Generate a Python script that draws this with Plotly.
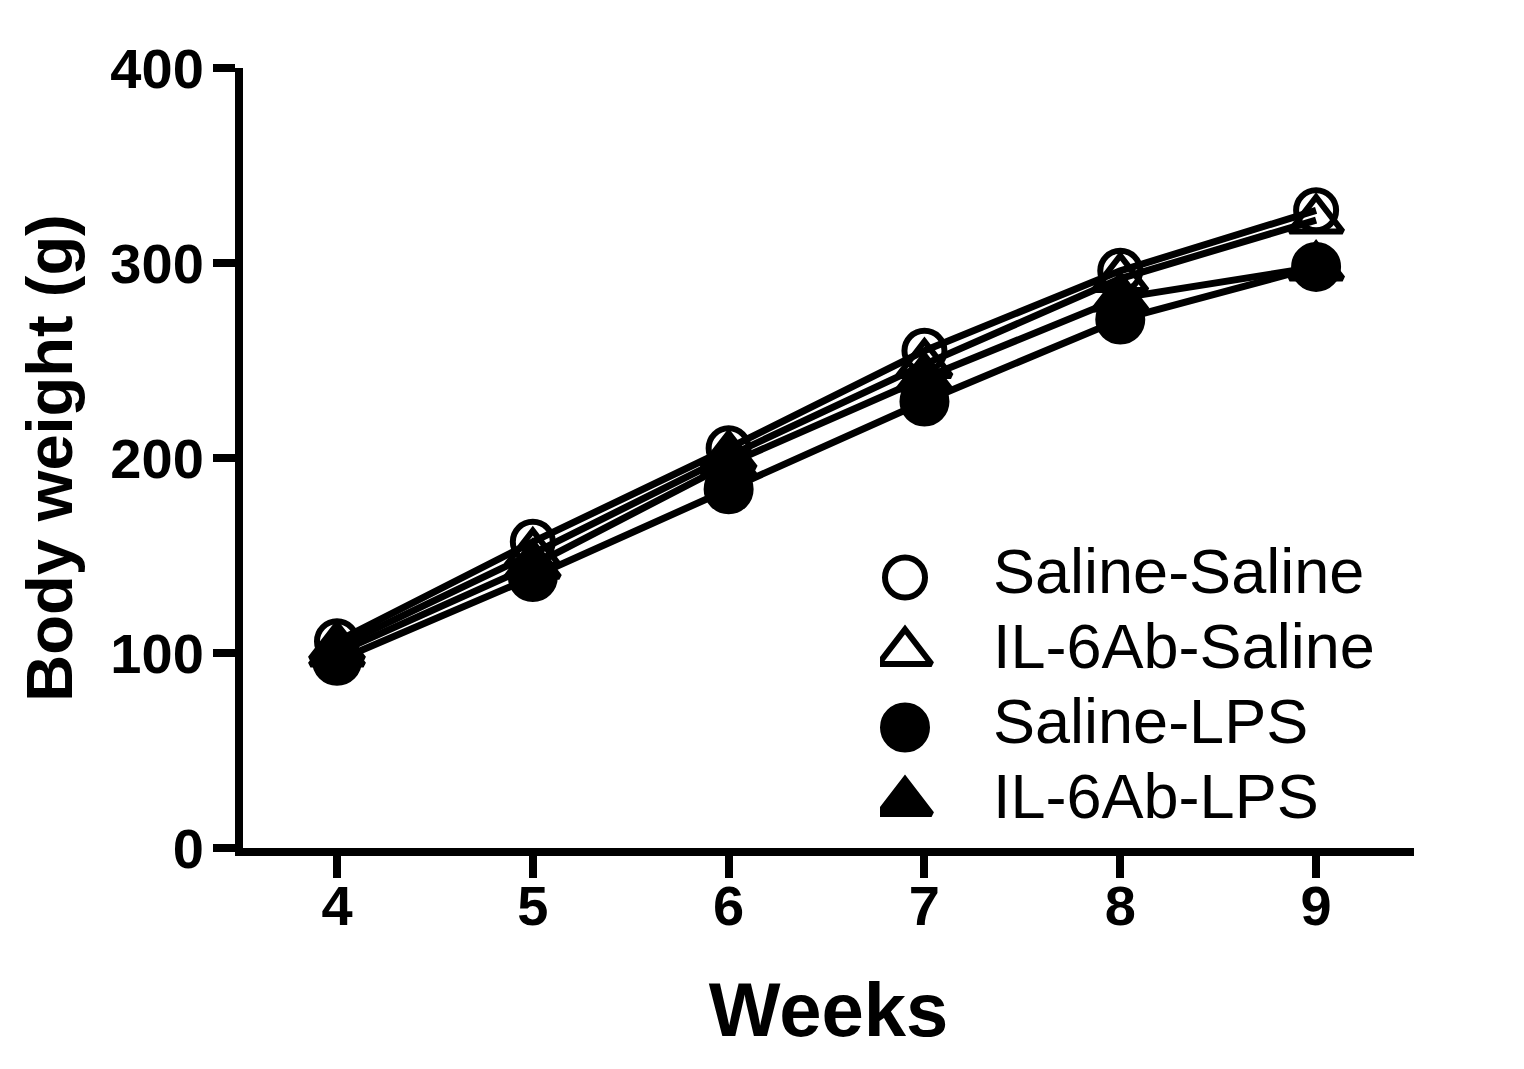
import plotly.graph_objects as go

# body weight (g) per week
weeks = [4, 5, 6, 7, 8, 9]
groups = ["Saline-Saline", "IL-6Ab-Saline", "Saline-LPS", "IL-6Ab-LPS"]
saline_saline = [106, 157, 205, 255, 296, 327]
il6ab_saline = [103, 151, 201, 248, 292, 322]
saline_lps = [96, 139, 184, 229, 271, 298]
il6ab_lps = [100, 145, 197, 241, 282, 298]
symbols = ["circle-open", "triangle-up-open", "circle", "triangle-up"]
sizes = [40, 46, 44, 46]

series = [saline_saline, il6ab_saline, saline_lps, il6ab_lps]

fig = go.Figure()

# filled circles drawn last so they sit on top
for i in [0, 1, 3, 2]:
    fig.add_trace(go.Scatter(
        x=weeks, y=series[i], name=groups[i],
        mode="lines+markers",
        line=dict(color="black", width=7),
        marker=dict(symbol=symbols[i], size=sizes[i], color="black", opacity=1,
                    line=dict(color="black", width=6)),
        showlegend=False,
    ))

# hand-made legend so the symbols can be as big as in the original
rows = list(range(len(groups)))
fig.add_trace(go.Scatter(
    x=[25] * len(groups), y=rows, mode="markers",
    marker=dict(symbol=symbols, size=sizes, color="black", opacity=1,
                line=dict(color="black", width=6)),
    xaxis="x2", yaxis="y2", showlegend=False, hoverinfo="skip",
))
fig.add_trace(go.Scatter(
    x=[113] * len(groups), y=rows, mode="text", text=groups,
    textposition="middle right",
    textfont=dict(family="Liberation Sans", size=63, color="black"),
    xaxis="x2", yaxis="y2", showlegend=False, hoverinfo="skip",
))

tick_font = dict(family="Liberation Sans", size=56, color="black", weight="bold")

# the page body has an 8px margin, margins below account for it
fig.update_layout(
    width=1524, height=1069,
    margin=dict(l=235, r=118, t=60, b=229),
    paper_bgcolor="white",
    plot_bgcolor="white",
    xaxis=dict(
        range=[3.52, 9.5], tickvals=weeks,
        showgrid=False, zeroline=False,
        showline=True, linecolor="black", linewidth=8,
        ticks="outside", ticklen=22, tickwidth=8, tickcolor="black",
        tickfont=tick_font, ticklabelstandoff=-20,
        title=dict(text="Weeks", standoff=50,
                   font=dict(family="Liberation Sans", size=76, color="black",
                             weight="bold")),
    ),
    yaxis=dict(
        range=[0, 400], tickvals=[0, 100, 200, 300, 400],
        showgrid=False, zeroline=False,
        showline=True, linecolor="black", linewidth=8,
        ticks="outside", ticklen=22, tickwidth=8, tickcolor="black",
        tickfont=tick_font, ticklabelstandoff=-2,
        title=dict(text="Body weight (g)", standoff=20,
                   font=dict(family="Liberation Sans", size=65, color="black",
                             weight="bold")),
    ),
    xaxis2=dict(domain=[(880 - 243) / 1171, (1400 - 243) / 1171],
                range=[0, 520], visible=False, anchor="y2"),
    yaxis2=dict(domain=[(848 - 840) / 780, (848 - 540) / 780],
                range=[3.5, -0.5], visible=False, anchor="x2"),
)

fig.write_html("out.html")
